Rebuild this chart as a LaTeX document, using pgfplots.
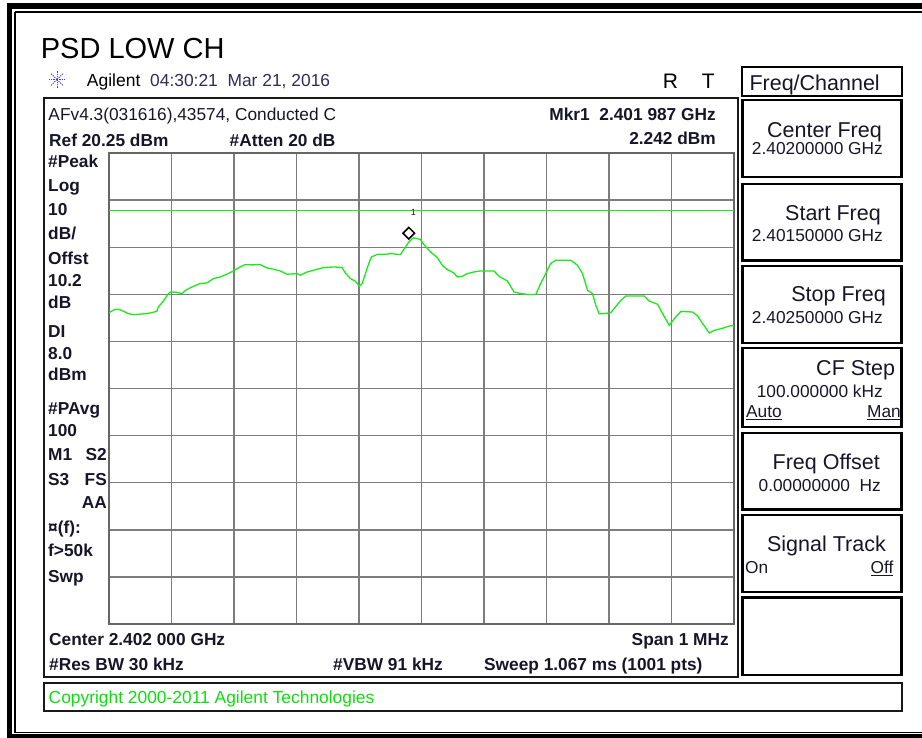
\documentclass[border=0pt]{standalone}
\usepackage{pgfplots}
\pgfplotsset{compat=1.18}
\usepackage{fontspec}
\setmainfont{Liberation Sans}
\newcommand\fs[1]{\fontsize{#1pt}{#1pt}\selectfont}
\definecolor{trace}{RGB}{25,235,25}
\definecolor{gridc}{RGB}{125,125,125}
\definecolor{txt}{RGB}{22,22,40}
\definecolor{datec}{RGB}{45,45,85}
\definecolor{copyc}{RGB}{10,225,10}
\definecolor{logoc}{RGB}{60,60,235}
\begin{document}
\begin{tikzpicture}[x=1pt,y=-1pt]
\useasboundingbox (0,0) rectangle (922,738);
% outer double frame
\draw[line width=5pt] (9.8,3.5) -- (9.8,738);
\draw[line width=5.5pt] (7,6.2) -- (922,6.2);
\draw[line width=3.5pt] (7,736) -- (922,736);
\draw[line width=1.7pt] (15.2,11.7) -- (15.2,732.5) -- (922,732.5);
\draw[line width=1.7pt] (15.2,11.7) -- (922,11.7);
% title and header
\node[anchor=base west,inner sep=0,font=\fs{29}] at (40.7,58.3) {PSD LOW CH};
\foreach \a in {0,45,...,315}{\draw[logoc,line width=0.9pt,dash pattern=on 1.3pt off 1pt] (57,79.5) -- ++(\a:8.5);}
\node[anchor=base west,inner sep=0,font=\fs{17.5}] at (86.7,86.7) {Agilent};
\node[anchor=base west,inner sep=0,font=\fs{17.4},text=datec] at (150,86.7) {04:30:21\ \ Mar 21, 2016};
\node[anchor=base west,inner sep=0,font=\fs{21}] at (662.7,88.3) {R};
\node[anchor=base west,inner sep=0,font=\fs{21}] at (701.7,88.3) {T};
% main display box
\draw[line width=2pt,black!90] (43.5,98) rectangle (738,677);
\begin{axis}[at={(109pt,-624pt)},anchor=south west,width=625pt,height=471pt,scale only axis,
  xmin=0,xmax=1000,ymin=-79.75,ymax=20.25,
  xtick={100,200,300,400,500,600,700,800,900},
  ytick={-69.75,-59.75,-49.75,-39.75,-29.75,-19.75,-9.75,0.25,10.25},
  xticklabels={},yticklabels={},tick style={draw=none},
  grid=major,major grid style={gridc,line width=1.4pt},
  axis line style={draw=black!60,line width=2.4pt},axis on top=false]
\addplot[trace,line width=1.2pt] coordinates {(0,8) (1000,8)};
\addplot[trace,line width=1.3pt] coordinates {
(0,-13.64) (9.6,-12.94) (17.6,-13.01) (30.9,-13.86) (38.9,-14.07) (60.4,-13.86) (68.4,-13.64) (76.4,-13.37) (79.0,-12.45) (87.0,-11.18) (95.0,-9.60) (98.9,-9.26) (108.5,-9.32) (116.5,-9.60) (124.5,-8.75) (132.5,-8.20) (145.8,-7.47) (156.6,-7.35) (167.2,-6.41) (177.9,-6.07) (188.7,-5.49) (199.2,-4.79) (209.9,-3.94) (217.9,-3.43) (228.7,-3.51) (242.0,-3.43) (252.7,-4.15) (263.3,-4.43) (274.0,-4.79) (284.8,-5.49) (300.8,-5.35) (306.1,-5.71) (316.8,-5.01) (327.4,-4.64) (343.4,-4.07) (359.5,-3.94) (372.9,-4.07) (378.2,-5.22) (386.2,-6.41) (394.2,-6.98) (400.7,-8.05) (405.0,-7.47) (410.3,-5.35) (415.6,-3.22) (419.9,-1.81) (429.0,-1.30) (434.3,-1.24) (445.1,-1.24) (450.3,-1.09) (463.6,-1.30) (466.4,-1.30) (474.4,0.31) (480.0,1.40) (487.0,2.242) (492,2.10) (498.4,1.89) (503.7,0.82) (514.4,-0.75) (525.2,-1.94) (533.2,-3.58) (541.2,-4.49) (551.8,-5.22) (557.3,-6.07) (565.3,-5.92) (573.3,-5.35) (583.8,-5.01) (594.6,-4.79) (615.9,-4.79) (623.9,-5.92) (637.4,-6.92) (648.0,-9.26) (658.7,-9.60) (672.0,-9.81) (682.7,-9.81) (690.7,-7.47) (698.7,-5.35) (706.7,-3.22) (714.8,-2.52) (738.8,-2.52) (749.5,-3.58) (757.6,-5.35) (765.6,-8.90) (773.6,-9.60) (778.9,-12.09) (784.2,-13.86) (792.2,-13.86) (802.9,-13.64) (808.2,-12.79) (819.0,-11.03) (827.0,-10.11) (856.3,-10.11) (864.3,-11.18) (877.8,-11.88) (885.8,-13.86) (896.4,-16.35) (904.4,-14.92) (915.1,-13.37) (933.9,-13.52) (941.9,-14.37) (949.9,-15.98) (960.5,-17.98) (968.5,-17.41) (979.3,-17.05) (992.6,-16.49) (1000,-16.35)};
\addplot[only marks,black,mark=square,mark size=4.1pt,mark options={rotate=45,line width=1.5pt,yshift=6.5pt}] coordinates {(487,2.242)};
\node[font=\fs{9},text=red!35!black,inner sep=0] at (axis cs:487,2.242) [yshift=25pt] {1};
\end{axis}
% texts in the display
\begin{scope}[every node/.style={inner sep=0,text=txt,font=\fs{17.3}}]
\node[anchor=base west] at (48.3,120.7) {AFv4.3(031616),43574, Conducted C};
\node[anchor=base west,font=\fs{17.3}\bfseries] at (49,146.7) {Ref 20.25 dBm};
\node[anchor=base west,font=\fs{17.3}\bfseries] at (229.5,146.7) {\#Atten 20 dB};
\node[anchor=base east,font=\fs{17.3}\bfseries] at (716,121) {Mkr1\ \ 2.401 987 GHz};
\node[anchor=base east,font=\fs{17.3}\bfseries] at (716,145) {2.242 dBm};
\node[anchor=base west,font=\fs{17.3}\bfseries] at (48,167.3) {\#Peak};
\node[anchor=base west,font=\fs{17.3}\bfseries] at (48,191.7) {Log};
\node[anchor=base west,font=\fs{17.3}\bfseries] at (48,215.7) {10};
\node[anchor=base west,font=\fs{17.3}\bfseries] at (48,240) {dB/};
\node[anchor=base west,font=\fs{17.3}\bfseries] at (48,264.3) {Offst};
\node[anchor=base west,font=\fs{17.3}\bfseries] at (48,286.7) {10.2};
\node[anchor=base west,font=\fs{17.3}\bfseries] at (48,308.3) {dB};
\node[anchor=base west,font=\fs{17.3}\bfseries] at (48,337.3) {DI};
\node[anchor=base west,font=\fs{17.3}\bfseries] at (48,359.3) {8.0};
\node[anchor=base west,font=\fs{17.3}\bfseries] at (48,380.7) {dBm};
\node[anchor=base west,font=\fs{17.3}\bfseries] at (48,414.3) {\#PAvg};
\node[anchor=base west,font=\fs{17.3}\bfseries] at (48,436) {100};
\node[anchor=base west,font=\fs{17.3}\bfseries] at (48,460) {M1};
\node[anchor=base east,font=\fs{17.3}\bfseries] at (107,460) {S2};
\node[anchor=base west,font=\fs{17.3}\bfseries] at (48,485) {S3};
\node[anchor=base east,font=\fs{17.3}\bfseries] at (107,485) {FS};
\node[anchor=base east,font=\fs{17.3}\bfseries] at (107,508.3) {AA};
\node[anchor=base west,font=\fs{17.3}\bfseries] at (48,533.3) {¤(f):};
\node[anchor=base west,font=\fs{17.3}\bfseries] at (48,556.7) {f>50k};
\node[anchor=base west,font=\fs{17.3}\bfseries] at (48,582.3) {Swp};
\node[anchor=base west,font=\fs{17.3}\bfseries] at (49,645) {Center 2.402 000 GHz};
\node[anchor=base east,font=\fs{17.3}\bfseries] at (729,645) {Span 1 MHz};
\node[anchor=base west,font=\fs{17.3}\bfseries] at (49,670) {\#Res BW 30 kHz};
\node[anchor=base west,font=\fs{17.3}\bfseries] at (333,670) {\#VBW 91 kHz};
\node[anchor=base west,font=\fs{17.3}\bfseries] at (484,670) {Sweep 1.067 ms (1001 pts)};
\end{scope}
% copyright box
\draw[line width=2pt,black!90] (44,682.5) rectangle (901.5,710.5);
\node[anchor=base west,inner sep=0,font=\fs{17.4},text=copyc] at (48.5,703) {Copyright 2000-2011 Agilent Technologies};
% right panel
\draw[line width=2pt] (742,67) rectangle (901.5,96.5);
\node[anchor=base west,inner sep=0,font=\fs{21.5},text=txt] at (749.3,90.4) {Freq/Channel};
\foreach \t/\b in {100/177.3,184/260.7,266/343,348.3/426.7,432.7/509.3,515/591.7,597.3/675}{
  \draw[line width=2.4pt] (742.5,\t) rectangle (901.5,\b);}
\begin{scope}[every node/.style={inner sep=0,text=txt}]
\node[anchor=base east,font=\fs{21.5}] at (882,137.5) {Center Freq};
\node[anchor=base east,font=\fs{17.3}] at (883,154.5) {2.40200000 GHz};
\node[anchor=base east,font=\fs{21.5}] at (881,220.5) {Start Freq};
\node[anchor=base east,font=\fs{17.3}] at (883,241.7) {2.40150000 GHz};
\node[anchor=base east,font=\fs{21.5}] at (886,302) {Stop Freq};
\node[anchor=base east,font=\fs{17.3}] at (883,323.3) {2.40250000 GHz};
\node[anchor=base east,font=\fs{21.5}] at (895.3,375.5) {CF Step};
\node[anchor=base east,font=\fs{17.3}] at (883,397.7) {100.000000 kHz};
\node[anchor=base west,font=\fs{17.3}] at (746,417.5) {\underline{Auto}};
\node[anchor=base east,font=\fs{17.3}] at (901,417.5) {\underline{Man}};
\node[anchor=base east,font=\fs{21.5}] at (880,469) {Freq Offset};
\node[anchor=base east,font=\fs{17.3}] at (881,491) {0.00000000\ \ Hz};
\node[anchor=base east,font=\fs{21.5}] at (886,551.7) {Signal Track};
\node[anchor=base west,font=\fs{17.3}] at (745,573.3) {On};
\node[anchor=base east,font=\fs{17.3}] at (893.5,573.3) {\underline{Off}};
\end{scope}
\end{tikzpicture}
\end{document}
